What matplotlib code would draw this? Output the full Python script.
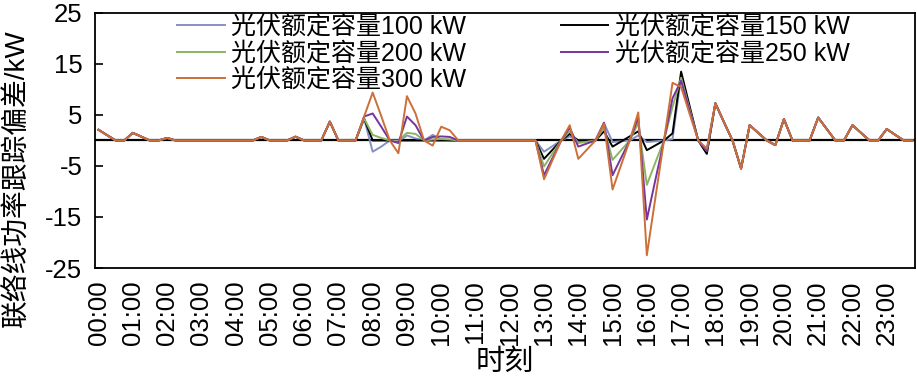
import matplotlib
matplotlib.use("Agg")
import matplotlib.pyplot as plt

plt.rcParams['font.family'] = ['Liberation Sans', 'Noto Sans CJK SC', 'DejaVu Sans']

# 15-minute steps, 96 points (00:00 .. 23:45)
tick_labels = ["%02d:00" % h for h in range(24)]
series_names = ["光伏额定容量100 kW", "光伏额定容量150 kW", "光伏额定容量200 kW",
                "光伏额定容量250 kW", "光伏额定容量300 kW"]

p100 = [2.1, 1.05, 0, 0, 1.5, 0.75, 0, 0, 0.5, 0, 0, 0, 0, 0, 0, 0,
        0, 0, 0, 0.7, 0, 0, 0, 0.75, 0, 0, 0, 3.7, 0, 0, 0, 4.3,
        -2.2, -1.2, 0, -0.3, 1.0, 0.4, 0, 1.1, 0.2, 0, 0, 0, 0, 0, 0, 0,
        0, 0, 0, 0, -2.2, -1.1, 0, 0.8, 0, 0, 0, 3.4, -0.3, -0.15, 0, 1.0,
        -0.3, -0.15, 0, 0.3, 12.5, 6.2, 0, -2.6, 7.3, 3.6, 0, -5.5, 3.0, 1.5, 0, -0.9,
        4.2, 0, 0, 0, 4.5, 2.25, 0, 0, 3.0, 1.5, 0, 0, 2.25, 1.1, 0, 0]
p150 = [2.1, 1.05, 0, 0, 1.5, 0.75, 0, 0, 0.5, 0, 0, 0, 0, 0, 0, 0,
        0, 0, 0, 0.7, 0, 0, 0, 0.75, 0, 0, 0, 3.7, 0, 0, 0, 4.3,
        0, 0, 0, 0, 0, 0, 0, 0, 0, 0, 0, 0, 0, 0, 0, 0,
        0, 0, 0, 0, -3.6, -1.8, 0, 1.3, 0, 0, 0, 1.8, -1.2, -0.2, 0.8, 1.8,
        -1.9, -0.95, 0, 1.4, 13.5, 6.7, 0, -2.6, 7.3, 3.6, 0, -5.5, 3.0, 1.5, 0, -0.9,
        4.2, 0, 0, 0, 4.5, 2.25, 0, 0, 3.0, 1.5, 0, 0, 2.25, 1.1, 0, 0]
p200 = [2.1, 1.05, 0, 0, 1.5, 0.75, 0, 0, 0.5, 0, 0, 0, 0, 0, 0, 0,
        0, 0, 0, 0.7, 0, 0, 0, 0.75, 0, 0, 0, 3.7, 0, 0, 0, 4.3,
        1.1, 0.5, 0, 0, 1.5, 1.3, 0, 0.2, 0.3, 0.2, 0, 0, 0, 0, 0, 0,
        0, 0, 0, 0, -5.1, -2.5, 0, 1.8, -0.5, -0.25, 0, 2.5, -3.8, -1.9, 0, 3.4,
        -8.7, -4.3, 0, 6.6, 12.3, 6.1, 0, -2.0, 7.3, 3.6, 0, -5.5, 3.0, 1.5, 0, -0.9,
        4.2, 0, 0, 0, 4.5, 2.25, 0, 0, 3.0, 1.5, 0, 0, 2.25, 1.1, 0, 0]
p250 = [2.1, 1.05, 0, 0, 1.5, 0.75, 0, 0, 0.5, 0, 0, 0, 0, 0, 0, 0,
        0, 0, 0, 0.7, 0, 0, 0, 0.75, 0, 0, 0, 3.7, 0, 0, 0, 4.7,
        5.3, 2.7, 0, -0.5, 4.7, 3.0, 0, 0.7, 0.8, 0.7, 0, 0, 0, 0, 0, 0,
        0, 0, 0, 0, -6.8, -3.4, 0, 2.5, -1.2, -0.6, 0, 3.5, -6.8, -3.4, 0, 4.5,
        -15.5, -7.7, 0, 8.3, 11.7, 5.8, 0, -2.0, 7.3, 3.6, 0, -5.5, 3.0, 1.5, 0, -0.9,
        4.2, 0, 0, 0, 4.5, 2.25, 0, 0, 3.0, 1.5, 0, 0, 2.25, 1.1, 0, 0]
p300 = [2.1, 1.05, 0, 0, 1.5, 0.75, 0, 0, 0.5, 0, 0, 0, 0, 0, 0, 0,
        0, 0, 0, 0.7, 0, 0, 0, 0.75, 0, 0, 0, 3.7, 0, 0, 0, 4.7,
        9.4, 4.8, 0, -2.5, 8.7, 5.3, 0, -1.0, 2.7, 2.0, 0, 0, 0, 0, 0, 0,
        0, 0, 0, 0, -7.6, -3.8, 0, 3.0, -3.6, -1.8, 0, 3.3, -9.6, -4.8, 0, 5.5,
        -22.5, -11.2, 0, 11.3, 10.5, 5.2, 0, -1.6, 7.3, 3.6, 0, -5.5, 3.0, 1.5, 0, -0.9,
        4.2, 0, 0, 0, 4.5, 2.25, 0, 0, 3.0, 1.5, 0, 0, 2.25, 1.1, 0, 0]

colors = ["#8491C3", "#000000", "#8BB463", "#7634A0", "#CC6F38"]
yticks = [-25, -15, -5, 5, 15, 25]

fig = plt.figure(figsize=(9.17, 3.78), dpi=100)
ax = fig.add_axes([95 / 917, 1 - 268 / 378, (915 - 95) / 917, (268 - 13) / 378])

x = list(range(len(p100)))
ax.axhline(0, color="black", lw=1.6, zorder=1)
handles = []
for vals, c, name in zip([p100, p150, p200, p250, p300], colors, series_names):
    h, = ax.plot(x, vals, color=c, lw=1.4, label=name, zorder=2)
    handles.append(h)

ax.set_xlim(-0.41, 95.3)
ax.set_ylim(-25, 25)
ax.set_yticks(yticks)
ax.set_yticklabels([str(v) for v in yticks])
ax.set_xticks(list(range(0, 96, 4)))
ax.set_xticklabels(tick_labels, rotation=90)
ax.tick_params(axis='y', direction='in', length=6, width=1.2, labelsize=18.5, pad=9)
ax.tick_params(axis='x', length=0, labelsize=18.5, pad=9)
for s in ax.spines.values():
    s.set_linewidth(1.3)

ax.set_xlabel("时刻", fontsize=21, labelpad=2)
ax.set_ylabel("联络线功率跟踪偏差/kW", fontsize=20)
ax.yaxis.set_label_coords((31 - 95) / 820, (268 - 178) / 255)

order = [0, 2, 4, 1, 3]
leg = ax.legend([handles[i] for i in order], [series_names[i] for i in order],
                ncol=2, loc="upper left", bbox_to_anchor=(177 / 917, 1 - 15 / 378),
                bbox_transform=fig.transFigure, frameon=False, fontsize=18,
                handlelength=1.9, handletextpad=0.25, columnspacing=3.8,
                labelspacing=0.1, borderpad=0, borderaxespad=0)

fig.savefig("out.png", dpi=100)
